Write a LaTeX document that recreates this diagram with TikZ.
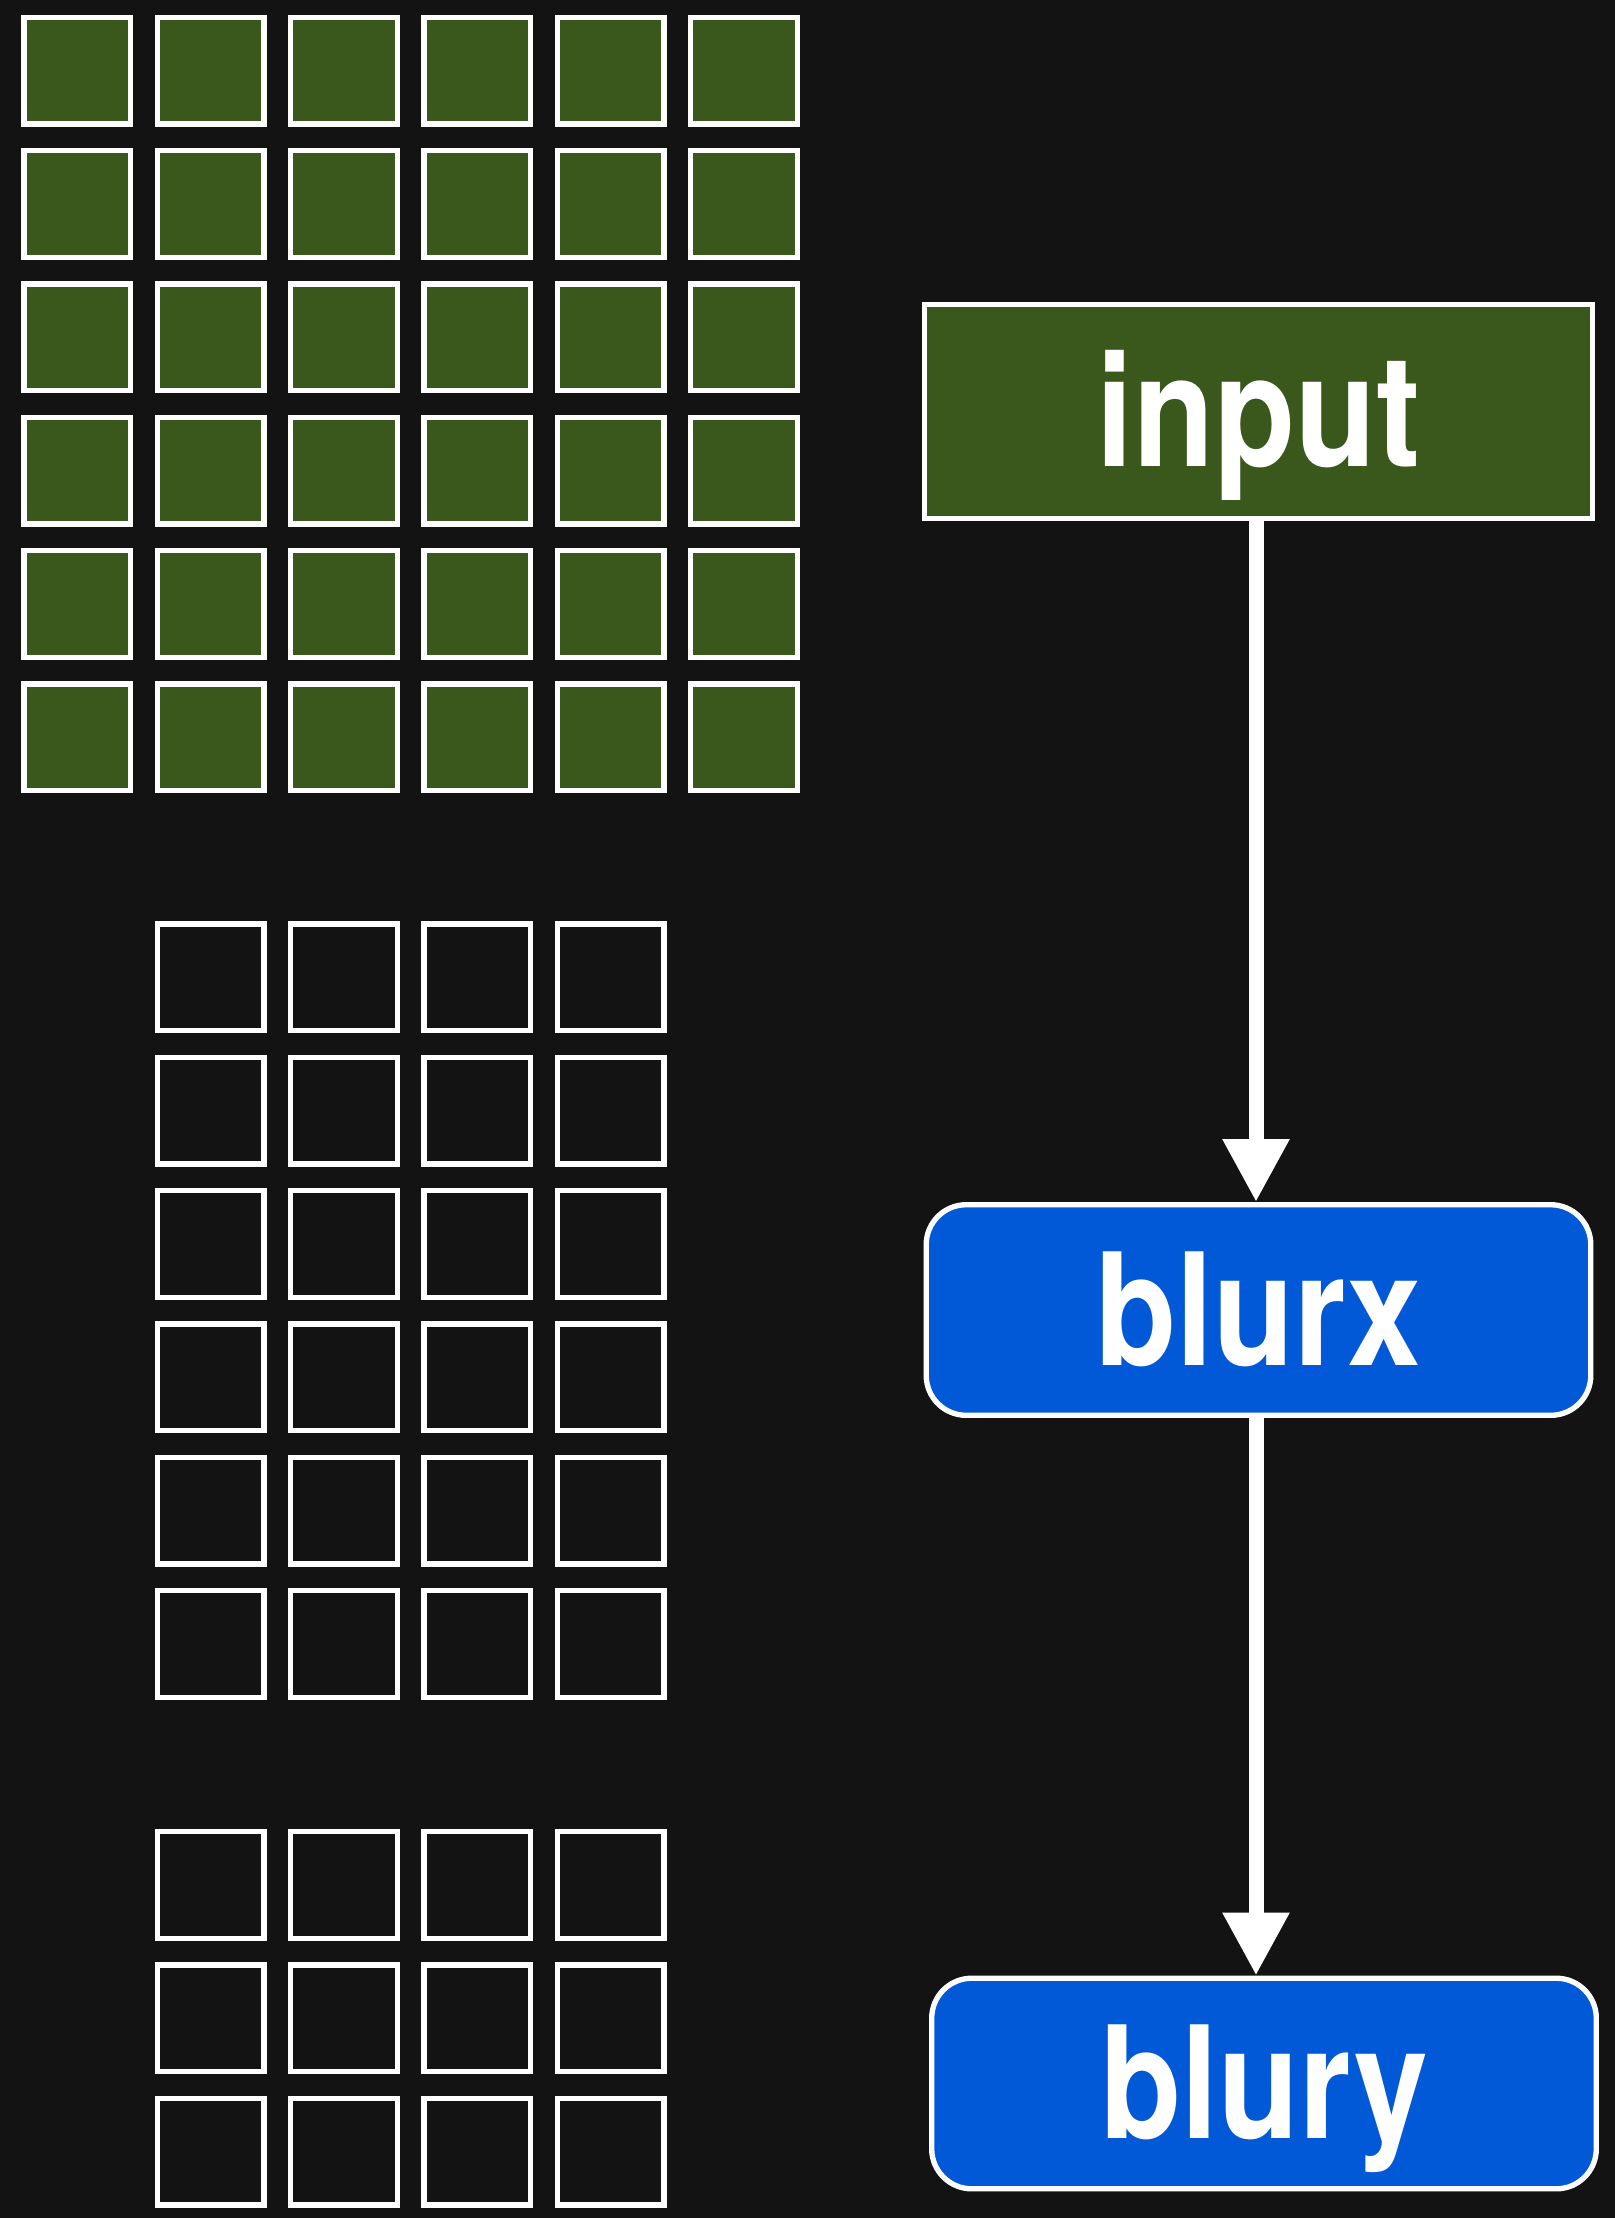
\documentclass[tikz,border=0pt]{standalone}
\usepackage{fontspec}
\setmainfont{TeX Gyre Heros}
\usepackage{graphicx}
\usetikzlibrary{arrows.meta}
\definecolor{bgdark}{HTML}{131313}
\definecolor{cellgreen}{HTML}{3A571C}
\definecolor{stageblue}{HTML}{0259D8}
\tikzset{
  cell/.style={draw=white, line width=2.67pt, minimum size=53.3pt, inner sep=0pt},
  incell/.style={cell, fill=cellgreen},
  outcell/.style={cell},
  stagetext/.style={text=white, font=\fontsize{78pt}{80pt}\selectfont\bfseries,
    text height=55pt, text depth=0pt, inner sep=0pt},
  srcbox/.style={stagetext, draw=white, line width=2.67pt, fill=cellgreen,
    minimum width=333.9pt, minimum height=106.8pt},
  funcbox/.style={stagetext, draw=white, line width=2.67pt, fill=stageblue,
    rounded corners=20pt, minimum width=332.3pt, minimum height=105.3pt},
  flow/.style={draw=white, line width=7.5pt,
    -{Triangle[length=31.5pt, width=31.5pt]}}
}
\newcommand{\stagelabel}[1]{\scalebox{0.85}[1]{#1}}
\begin{document}
\begin{tikzpicture}[x=0.5pt, y=-0.5pt]
  % canvas
  \fill[bgdark] (0,0) rectangle (1615,2218);
  \useasboundingbox (0,0) rectangle (1615,2218);

  % input buffer: 6 x 6
  \foreach \i in {0,...,5}
    \foreach \j in {0,...,5}
      \node[incell] (in-\i-\j) at ({77.3+133.33*\i}, {70.7+133.33*\j}) {};

  % blurx buffer: 4 x 6
  \foreach \i in {1,...,4}
    \foreach \j in {0,...,5}
      \node[outcell] (bx-\i-\j) at ({77.3+133.33*\i}, {977.3+133.33*\j}) {};

  % blury buffer: 4 x 3
  \foreach \i in {1,...,4}
    \foreach \j in {0,...,2}
      \node[outcell] (by-\i-\j) at ({77.3+133.33*\i}, {1885+133.33*\j}) {};

  % pipeline stages
  \node[srcbox]  (input) at (1258.5, 411.5) {\stagelabel{input}};
  \node[funcbox] (blurx) at (1258.5, 1310)  {\stagelabel{blurx}};
  \node[funcbox] (blury) at (1264, 2083.5)  {\stagelabel{blury}};

  % data flow runs down one vertical line
  \coordinate (lane) at (1256, 0);
  \draw[flow] (lane |- input.south) -- (lane |- blurx.north);
  \draw[flow] (lane |- blurx.south) -- (lane |- blury.north);
\end{tikzpicture}
\end{document}
